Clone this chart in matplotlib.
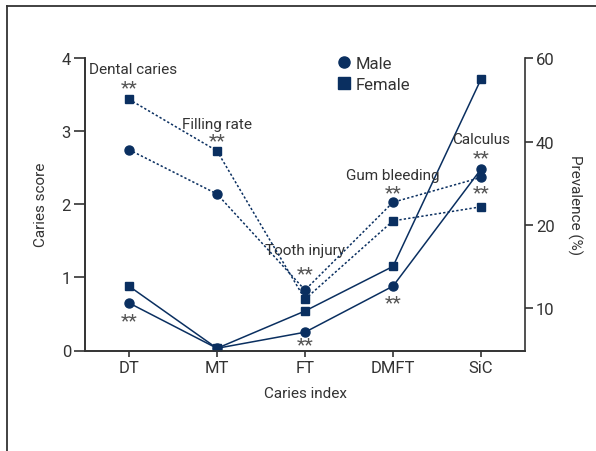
import numpy as np
import matplotlib.pyplot as plt
from matplotlib.lines import Line2D

plt.rcParams['font.family'] = ['Roboto', 'DejaVu Sans']

# data
categories = ['DT', 'MT', 'FT', 'DMFT', 'SiC']
score_male = [0.65, 0.03, 0.25, 0.88, 2.48]
score_female = [0.88, 0.03, 0.54, 1.15, 3.71]
prev_male = [38.2, 27.5, 12.2, 25.5, 31.5]
prev_female = [50.2, 37.9, 11.1, 21.0, 24.4]
prev_labels = ['Dental caries', 'Filling rate', 'Tooth injury', 'Gum bleeding', 'Calculus']
right_ticks = [10, 20, 40, 60]

# right axis is drawn with equal spacing between 10, 20, 40, 60
pct_pts = [5, 10, 20, 40, 60]
pos_pts = [0.0, 0.576, 1.716, 2.848, 4.0]

def fwd(v):
    return np.interp(v, pct_pts, pos_pts)

def inv(v):
    return np.interp(v, pos_pts, pct_pts)

navy = '#0a2f60'
grey = '#333333'
fs = 11

fig = plt.figure(figsize=(5.96, 4.52), dpi=100)
ax = fig.add_axes([85/596, 1-351.5/452, 440/596, 292.5/452])
ax2 = ax.twinx()

x = np.arange(len(categories))
lw = 1.1
ax.plot(x, score_female, '-', color=navy, lw=lw, marker='s', ms=6, zorder=3)
ax.plot(x, score_male, '-', color=navy, lw=lw, marker='o', ms=6.5, zorder=3)

ax2.set_yscale('function', functions=(fwd, inv))
dots = (0, (1.5, 1.4))
ax2.plot(x, prev_female, color=navy, lw=lw, ls=dots, marker='s', ms=6, zorder=3)
ax2.plot(x, prev_male, color=navy, lw=lw, ls=dots, marker='o', ms=6.5, zorder=3)

ax.set_xlim(-0.5, 4.5)
ax.set_ylim(0, 4)
ax2.set_ylim(5, 60)
ax2.set_yticks(right_ticks)
ax2.set_yticklabels([str(t) for t in right_ticks])
ax2.minorticks_off()
ax.set_xticks(x)
ax.set_xticklabels(categories)
ax.set_yticks([0, 1, 2, 3, 4])

for a in (ax, ax2):
    a.spines['top'].set_visible(False)
    for s in a.spines.values():
        s.set_color(grey)
        s.set_linewidth(1.2)
    a.tick_params(colors=grey, labelsize=fs + 1, width=1.2)
ax.tick_params(axis='y', length=8, pad=2)
ax.tick_params(axis='x', length=4, pad=3)
ax2.tick_params(axis='y', length=6, pad=2)
ax.spines['right'].set_visible(False)

ax.set_xlabel('Caries index', fontsize=fs, color=grey, labelpad=8)
ax.set_ylabel('Caries score', fontsize=fs, color=grey, labelpad=10)
ax2.set_ylabel('Prevalence (%)', fontsize=fs, color=grey, rotation=270, labelpad=20)

# annotations for prevalence series
tc = '#333333'
sc = '#555555'
ax.text(-0.46, 3.85, prev_labels[0], fontsize=fs, color=tc, ha='left', va='center')
ax.text(1, 3.10, prev_labels[1], fontsize=fs, color=tc, ha='center', va='center')
ax.text(2, 1.38, prev_labels[2], fontsize=fs, color=tc, ha='center', va='center')
ax.text(3, 2.405, prev_labels[3], fontsize=fs, color=tc, ha='center', va='center')
ax.text(4, 2.89, prev_labels[4], fontsize=fs, color=tc, ha='center', va='center')

star_pos = [(0, 3.62), (1, 2.89), (2, 1.08), (3, 2.18), (4, 2.66), (4, 2.18),
            (0, 0.43), (2, 0.11), (3, 0.68)]
for sx, sy in star_pos:
    ax.text(sx, sy - 0.02, '**', fontsize=14, color=sc, ha='center', va='center')

handles = [Line2D([], [], ls='none', marker='o', color=navy, ms=8, label='Male'),
           Line2D([], [], ls='none', marker='s', color=navy, ms=8, label='Female')]
ax.legend(handles=handles, loc='upper left', bbox_to_anchor=(0.54, 1.058), frameon=False,
          fontsize=fs + 1, handlelength=0.8, handletextpad=0.3, labelspacing=0.35, labelcolor=grey)

# outer frame (left and top only)
fig.add_artist(Line2D([7/596, 7/596], [0, 1-7/452], color=grey, lw=1.3))
fig.add_artist(Line2D([7/596, 1], [1-7/452, 1-7/452], color=grey, lw=1.3))

fig.savefig('out.png', dpi=100)
